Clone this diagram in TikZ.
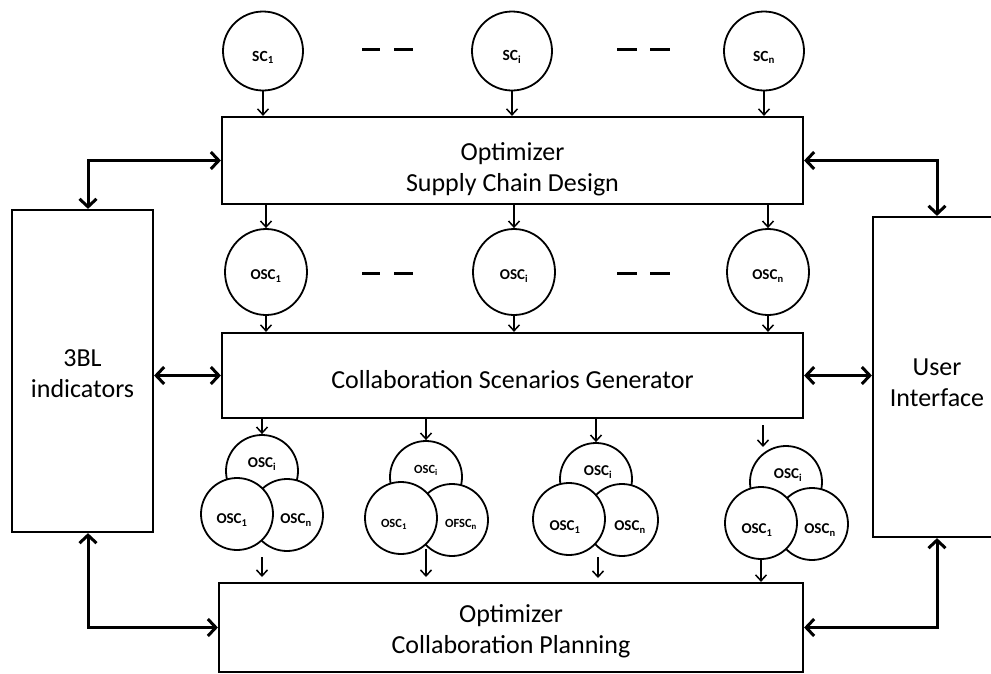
\documentclass[tikz,border=0pt]{standalone}
\usepackage{fontspec}
\setmainfont{Carlito}
\usetikzlibrary{arrows.meta,shapes.geometric}
\newcommand\lowtxt[2]{\raisebox{-#1}[\height][\depth]{#2}}
\begin{document}
\begin{tikzpicture}[x=1pt,y=-1pt,
  box/.style={draw, line width=2.2pt, inner sep=0pt},
  btext/.style={align=center, font=\fontsize{26}{31}\selectfont, inner sep=0pt},
  sc/.style={ellipse, draw, line width=1.8pt, minimum width=80pt, minimum height=79pt, inner sep=0pt, font=\bfseries\fontsize{15.5}{17}\selectfont},
  osc/.style={ellipse, draw, line width=1.8pt, minimum width=82pt, minimum height=86pt, inner sep=0pt, font=\bfseries\fontsize{15}{17}\selectfont},
  cl/.style={circle, draw, fill=white, line width=1.8pt, minimum size=72pt, inner sep=0pt},
  ctx/.style={font=\bfseries\fontsize{15}{17}\selectfont, inner sep=0pt},
  ctxs/.style={font=\bfseries\fontsize{12.5}{14}\selectfont, inner sep=0pt},
  sarr/.style={line width=1.5pt, -{Straight Barb[length=6pt,width=11pt]}},
  barr/.style={line width=3pt, {Straight Barb[length=8pt,width=17pt]}-{Straight Barb[length=8pt,width=17pt]}},
  dsh/.style={line width=3pt},
]
\clip (0,0) rectangle (991,673);
\fill[white] (0,0) rectangle (991,673);

% boxes
\node[box, minimum width=581pt, minimum height=87pt] (tb) at (512.5,160.5) {};
\node[box, minimum width=581pt, minimum height=85pt] (mb) at (512.5,375.5) {};
\node[box, minimum width=584pt, minimum height=89pt] (bb) at (511,627.5) {};
\node[box, minimum width=141pt, minimum height=322pt] (lb) at (82.5,371) {};
\node[box, minimum width=128pt, minimum height=320pt] (ub) at (937,377) {};
\node[btext] (tbt) at (512.5,169) {Optimizer\\Supply Chain Design};
\node[btext] (mbt) at (512.5,379.5) {Collaboration Scenarios Generator};
\node[btext] (bbt) at (511,631) {Optimizer\\Collaboration Planning};
\node[btext] (lbt) at (82.5,374) {3BL\\indicators};
\node[btext] (ubt) at (937,382.5) {User\\Interface};

% top row
\node[sc] (sc1) at (263,51) {\lowtxt{6pt}{SC\textsubscript{1}}};
\node[sc] (sci) at (512,51) {\lowtxt{6pt}{SC\textsubscript{i}}};
\node[sc] (scn) at (764,51) {\lowtxt{6pt}{SC\textsubscript{n}}};
\draw[dsh] (362,49) -- (380,49);
\draw[dsh] (394,49) -- (413,49);
\draw[dsh] (617,49) -- (637,49);
\draw[dsh] (650,49) -- (670,49);
\foreach \n in {sc1,sci,scn} \draw[sarr] (\n) -- (\n |- tb.north);

% osc row
\node[osc] (osc1) at (266,272) {\lowtxt{4pt}{OSC\textsubscript{1}}};
\node[osc] (osci) at (514,272) {\lowtxt{4pt}{OSC\textsubscript{i}}};
\node[osc] (oscn) at (768,272) {\lowtxt{4pt}{OSC\textsubscript{n}}};
\draw[dsh] (362,273) -- (380,273);
\draw[dsh] (394,273) -- (413,273);
\draw[dsh] (617,273) -- (637,273);
\draw[dsh] (650,273) -- (670,273);
\foreach \n in {osc1,osci,oscn} {
  \draw[sarr] (tb.south -| \n) -- (\n);
  \draw[sarr] (\n) -- (\n |- mb.north);
}

% cluster 1
\node[cl] (c1t) at (262,471) {};
\node[cl] (c1r) at (287,515) {};
\node[cl] (c1l) at (237,514) {};
\node[ctx] (c1tt) at (262,464) {OSC\textsubscript{i}};
\node[ctx] (c1lt) at (232,520) {OSC\textsubscript{1}};
\node[ctx] (c1rt) at (296,520) {OSC\textsubscript{n}};
\draw[sarr] (mb.south -| c1t) -- (c1t);
\coordinate (c1a) at (262,557);
\coordinate (c1b) at (262,577);
\draw[sarr] (c1a) -- (c1b);

% cluster 2
\node[cl] (c2t) at (426,477) {};
\node[cl] (c2r) at (452,520) {};
\node[cl] (c2l) at (401,518) {};
\node[ctxs] (c2tt) at (426,470) {OSC\textsubscript{i}};
\node[ctxs] (c2lt) at (394,524) {OSC\textsubscript{1}};
\node[ctxs] (c2rt) at (461,524) {OFSC\textsubscript{n}};
\draw[sarr] (mb.south -| c2t) -- (c2t);
\coordinate (c2a) at (426,549);
\coordinate (c2b) at (426,577);
\draw[sarr] (c2a) -- (c2b);

% cluster 3
\node[cl] (c3t) at (596,479) {};
\node[cl] (c3r) at (622,520) {};
\node[cl] (c3l) at (569,519) {};
\node[ctx] (c3tt) at (598,472) {OSC\textsubscript{i}};
\node[ctx] (c3lt) at (565,527) {OSC\textsubscript{1}};
\node[ctx] (c3rt) at (630,527) {OSC\textsubscript{n}};
\draw[sarr] (mb.south -| c3t) -- (c3t);
\coordinate (c3a) at (598,557);
\coordinate (c3b) at (598,578);
\draw[sarr] (c3a) -- (c3b);

% cluster 4
\node[cl] (c4t) at (786,482) {};
\node[cl] (c4r) at (812,524) {};
\node[cl] (c4l) at (761,523) {};
\node[ctx] (c4tt) at (788,475) {OSC\textsubscript{i}};
\node[ctx] (c4lt) at (757,530) {OSC\textsubscript{1}};
\node[ctx] (c4rt) at (820,530) {OSC\textsubscript{n}};
\coordinate (c4a) at (763,425);
\coordinate (c4b) at (763,447);
\draw[sarr] (c4a) -- (c4b);
\draw[sarr] (c4l.south) -- (c4l.south |- bb.north);

% big double arrows
\draw[barr] ([xshift=5.5pt]lb.north) |- (tb.west);
\draw[barr] (ub.north) |- (tb.east);
\draw[barr] (lb.east |- mb.west) -- (mb.west);
\draw[barr] (mb.east) -- (mb.east -| ub.west);
\draw[barr] ([xshift=5.5pt]lb.south) |- (bb.west);
\draw[barr] (ub.south) |- (bb.east);
\end{tikzpicture}
\end{document}
